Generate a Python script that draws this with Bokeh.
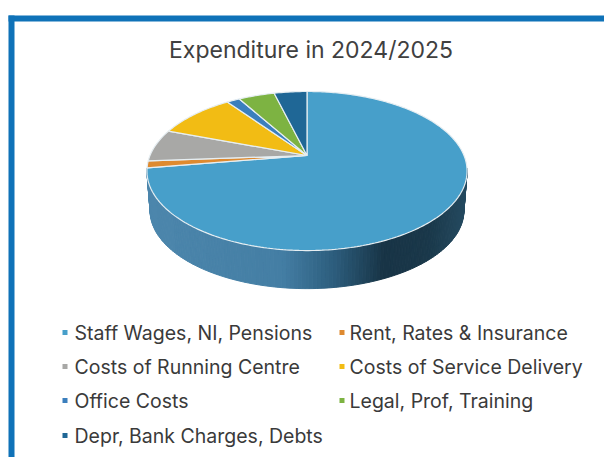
import numpy as np
from bokeh.plotting import figure
from bokeh.models import Range1d
from bokeh.core.properties import value
from bokeh.embed import file_html
from bokeh.resources import INLINE

title = "Expenditure in 2024/2025"
categories = ["Staff Wages, NI, Pensions", "Rent, Rates & Insurance", "Costs of Running Centre",
              "Costs of Service Delivery", "Office Costs", "Legal, Prof, Training",
              "Depr, Bank Charges, Debts"]
shares = [72.5, 1.4, 6.6, 9.5, 1.6, 4.4, 4.0]
colors = ["#479fca", "#de8a30", "#a8a8a6", "#f2bc14", "#3b7fbd", "#7db342", "#1f6796"]

FONT = "Inter"
W, H = 604, 457
p = figure(width=W, height=H, output_backend="svg", toolbar_location=None,
           x_range=Range1d(0, W), y_range=Range1d(H, 0), min_border=0)
p.axis.visible = False
p.grid.visible = False
p.outline_line_color = None
p.background_fill_color = "#ffffff"
p.border_fill_color = "#ffffff"

# perspective disc
CX, CY, A, B, K = 306.5, 155.0, 157.0, 76.5, 0.195

def project(theta, scale=1.0, drop=0.0):
    """theta: clockwise from the top of the disc, in radians."""
    X, Y = np.sin(theta), np.cos(theta)
    w = 1 + K * Y
    return CX + scale * A * X / w, CY - scale * B * Y / w + drop

def lerp_color(t):
    stops = [(0.0, (76, 134, 172)), (0.42, (68, 126, 164)), (0.58, (45, 94, 126)),
             (0.74, (24, 52, 70)), (0.88, (26, 56, 74)), (1.0, (36, 74, 96))]
    for (a, ca), (b, cb) in zip(stops, stops[1:]):
        if t <= b:
            f = (t - a) / (b - a)
            return "#%02x%02x%02x" % tuple(int(round(x + (y - x) * f)) for x, y in zip(ca, cb))
    return "#244a60"

# side wall, shaded by horizontal position
th = np.linspace(np.pi / 2 + 0.16, 3 * np.pi / 2 - 0.16, 140)
xs, ys = [], []
for t0, t1 in zip(th[:-1], th[1:]):
    x0, y0 = project(np.array([t0, t1]))
    x1, y1 = project(np.array([t1, t0]), 0.98, 40)
    xs.append(np.r_[x0, x1].tolist())
    ys.append(np.r_[y0, y1].tolist())
cs = [lerp_color((float(np.mean(x[:2])) - (CX - 160)) / 320) for x in xs]
p.patches(xs, ys, fill_color=cs, line_color=cs, line_width=1)

# top slices
edges = np.r_[0, np.cumsum(shares)] / np.sum(shares) * 2 * np.pi
for a0, a1, c in zip(edges[:-1], edges[1:], colors):
    t = np.linspace(a0, a1, max(4, int((a1 - a0) * 60)))
    x, y = project(t)
    p.patch(np.r_[CX, x], np.r_[CY, y], fill_color=c, line_color="#e6eef2", line_width=1.2)

# frame: top and left rules run to the picture's edges
p.quad(left=[8], right=[W], top=[15], bottom=[21], fill_color="#0f72b8", line_color=None)
p.quad(left=[8], right=[14], top=[15], bottom=[H], fill_color="#0f72b8", line_color=None)

# title
p.text([310.5], [49], text=[title], text_font=value(FONT), text_font_size="23px",
       text_color="#404040", text_align="center", text_baseline="middle")

# legend
marker_x = [62, 339]
text_x = [74, 349]
row_y = [332, 366, 400, 435]
mx = [marker_x[i % 2] for i in range(len(categories))]
tx = [text_x[i % 2] for i in range(len(categories))]
ly = [row_y[i // 2] for i in range(len(categories))]
p.scatter(np.array(mx) + 2.5, ly, marker="square", size=5, fill_color=colors, line_color=None)
p.text(tx, ly, text=categories, text_font=value(FONT), text_font_size="19.5px",
       text_color="#3a3a3a", text_align="left", text_baseline="middle")

open("out.html", "w").write(file_html(p, INLINE))
